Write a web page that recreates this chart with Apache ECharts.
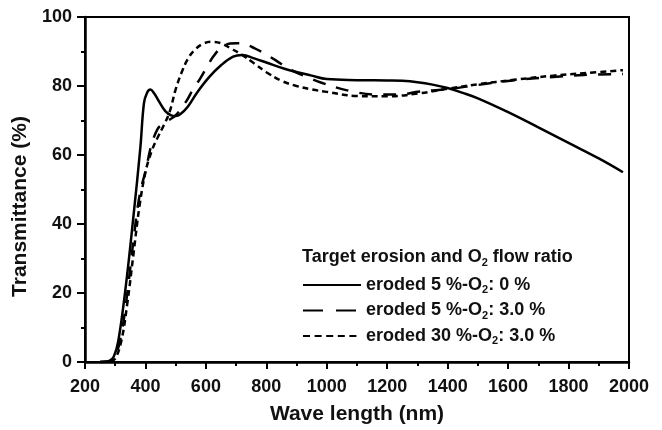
<!DOCTYPE html>
<html>
<head>
<meta charset="utf-8">
<script src="https://cdn.jsdelivr.net/npm/echarts@6/dist/echarts.min.js"></script>
<style>html,body{margin:0;padding:0;background:#fff}#c{width:662px;height:430px}</style>
</head>
<body>
<div id="c"></div>
<script>
// Wavelength (nm) and transmittance (%)
var wl1 = [250, 280, 295, 310, 335, 360, 383, 395, 405, 416, 428, 445, 465, 485, 500, 515, 540, 570, 610, 650, 690, 720, 760, 800, 860, 950, 1000, 1100, 1200, 1250, 1300, 1350, 1400, 1450, 1500, 1600, 1700, 1800, 1900, 1980];
var t1  = [0, 0.3, 1.5, 6, 22, 42, 62, 75, 78, 79, 78, 75.5, 72.8, 71.5, 71.3, 71.8, 74, 78, 82.5, 86, 88.5, 89, 88, 86.8, 85, 83, 82, 81.7, 81.6, 81.5, 81.1, 80.4, 79.4, 78, 76.4, 72.4, 68, 63.5, 59, 55];

var wl2 = [250, 285, 300, 320, 340, 360, 380, 402, 420, 440, 455, 475, 500, 536, 560, 580, 600, 625, 650, 680, 702, 725, 760, 790, 830, 878, 930, 980, 1080, 1170, 1250, 1300, 1400, 1500, 1620, 1750, 1850, 1980];
var t2  = [0, 0.3, 1.5, 8, 20, 35, 48, 56, 63, 67.5, 68.8, 70, 71.5, 75.7, 79.5, 82, 85, 88.6, 91, 92.3, 92.4, 92.2, 91, 89.6, 87.5, 84.8, 82.8, 81, 78.5, 77.5, 77.6, 78.3, 79.1, 80.3, 81.7, 82.6, 83.2, 83.5];

var wl3 = [250, 285, 300, 320, 340, 360, 380, 400, 420, 440, 460, 480, 500, 520, 540, 560, 590, 620, 650, 680, 720, 760, 800, 850, 900, 950, 1000, 1100, 1200, 1300, 1400, 1500, 1620, 1750, 1850, 1980];
var t3  = [0, 0.3, 1, 6, 17, 31, 45, 55, 61, 65, 68.5, 72.5, 79, 84, 87.8, 90.2, 92.2, 92.8, 92.4, 91, 89, 86.5, 84, 81.5, 80, 79, 78.3, 77.1, 77, 77.8, 79.2, 80.5, 81.8, 83, 83.7, 84.6];

var names = ['eroded 5 %-O2: 0 %', 'eroded 5 %-O2: 3.0 %', 'eroded 30 %-O2: 3.0 %'];
var xTicks = { min: 200, max: 2000, interval: 200 };
var yTicks = { min: 0, max: 100, interval: 20 };

function pairs(xs, ys) { return xs.map(function (x, i) { return [x, ys[i]]; }); }

var FONT = '"Liberation Sans", Arial, sans-serif';
var chart = echarts.init(document.getElementById('c'), null, { renderer: 'canvas' });
var subRich = { sub: { fontSize: 11, fontWeight: 'bold', fontFamily: FONT, color: '#111', padding: [10, 0, 0, 0] } };

chart.setOption({
  animation: false,
  backgroundColor: '#fff',
  title: {
    text: 'Target erosion and O{sub|2} flow ratio',
    left: 297, top: 242,
    textStyle: { fontSize: 18, fontWeight: 'bold', fontFamily: FONT, color: '#111', rich: subRich }
  },
  legend: {
    orient: 'vertical',
    left: 297, top: 271,
    itemWidth: 58, itemHeight: 14, itemGap: 6,
    itemStyle: { opacity: 0, color: 'transparent', borderWidth: 0 },
    data: [
      { name: names[0] },
      { name: names[1], lineStyle: { type: [20, 13] } },
      { name: names[2], lineStyle: { type: [7, 4.6] } }
    ],
    formatter: function (n) { return n.replace('O2', 'O{sub|2}'); },
    textStyle: { fontSize: 18, fontWeight: 'bold', fontFamily: FONT, color: '#111', rich: subRich }
  },
  grid: { left: 85, right: 33, top: 17, bottom: 65, show: true, borderColor: '#000', borderWidth: 2, containLabel: false },
  xAxis: {
    type: 'value', min: xTicks.min, max: xTicks.max, interval: xTicks.interval,
    name: 'Wave length (nm)', nameLocation: 'middle', nameGap: 42,
    nameTextStyle: { fontSize: 21, fontWeight: 'bold', fontFamily: FONT, color: '#111' },
    axisLine: { lineStyle: { color: '#000', width: 2.5 } },
    axisTick: { inside: false, length: 7, lineStyle: { color: '#000', width: 2 } },
    minorTick: { show: true, splitNumber: 2, length: 4, lineStyle: { color: '#000', width: 2 } },
    axisLabel: { margin: 16, fontSize: 18, fontWeight: 'bold', fontFamily: FONT, color: '#111',
      formatter: function (v) { return String(v); } },
    splitLine: { show: false }
  },
  yAxis: {
    type: 'value', min: yTicks.min, max: yTicks.max, interval: yTicks.interval,
    name: 'Transmittance (%)', nameLocation: 'middle', nameGap: 48,
    nameTextStyle: { fontSize: 21, fontWeight: 'bold', fontFamily: FONT, color: '#111', padding: [0, 34, 0, 0] },
    axisLine: { lineStyle: { color: '#000', width: 2.5 } },
    axisTick: { inside: false, length: 8, lineStyle: { color: '#000', width: 2 } },
    minorTick: { show: true, splitNumber: 2, length: 4, lineStyle: { color: '#000', width: 2 } },
    axisLabel: { margin: 13, fontSize: 18, fontWeight: 'bold', fontFamily: FONT, color: '#111',
      formatter: function (v) { return String(v); } },
    splitLine: { show: false }
  },
  series: [
    { name: names[0], type: 'line', data: pairs(wl1, t1), smooth: 0.4, symbol: 'none', color: '#000',
      lineStyle: { color: '#000', width: 2.5, type: 'solid' }, z: 3 },
    { name: names[1], type: 'line', data: pairs(wl2, t2), smooth: 0.4, symbol: 'none', color: '#000',
      lineStyle: { color: '#000', width: 2.5, type: [13, 11] }, z: 2 },
    { name: names[2], type: 'line', data: pairs(wl3, t3), smooth: 0.4, symbol: 'none', color: '#000',
      lineStyle: { color: '#000', width: 2.5, type: [6, 4] }, z: 2 }
  ]
});
</script>
</body>
</html>
